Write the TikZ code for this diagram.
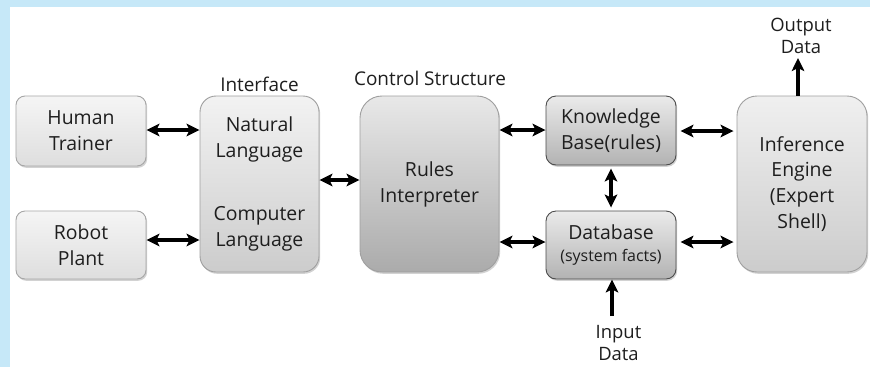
\documentclass[tikz,border=0pt]{standalone}
\usepackage{fontspec}
\setmainfont{Open Sans}
\usetikzlibrary{shadows,arrows.meta,calc}
\definecolor{bgblue}{HTML}{C6E8F8}
\definecolor{txt}{HTML}{1E1E1E}
\begin{document}
\begin{tikzpicture}[x=1bp,y=-1bp,
  font=\fontsize{19.5}{26}\selectfont, text=txt,
  box/.style={draw=#1, line width=0.9bp, align=center, inner sep=0pt,
    drop shadow={shadow xshift=1.2bp, shadow yshift=-1.8bp, opacity=0.35}},
  light/.style={box=gray!70, top color=black!4, bottom color=black!13, rounded corners=9bp},
  tall/.style={box=gray!75, rounded corners=16bp},
  mid/.style={box=black!70, top color=black!8, bottom color=black!30, rounded corners=10bp},
  tip/.tip={Stealth[length=13bp,width=12.5bp,inset=3bp]},
  arr/.style={line width=3.2bp, black, tip-tip},
  oarr/.style={line width=3.2bp, black, -tip},
  lbl/.style={align=center, inner sep=0pt}
]
\useasboundingbox (0,0) rectangle (870,367);
\fill[bgblue] (0,0) rectangle (870,367);
\fill[white] (10,7) rectangle (870,367);

\node[light, minimum width=130bp, minimum height=70bp] (ht) at (81,131) {Human\\Trainer};
\node[light, minimum width=130bp, minimum height=68bp] (rp) at (81,245) {Robot\\Plant};
\node[tall, top color=black!5, bottom color=black!20, minimum width=119bp, minimum height=176bp] (iface) at (259.5,184) {};
\node[lbl] (nl) at (259.5,139) {Natural\\Language};
\node[lbl] (cl) at (259.5,229) {Computer\\Language};
\node[tall, rounded corners=22bp, top color=black!9, bottom color=black!33, minimum width=139bp, minimum height=176bp] (rules) at (429.5,184) {Rules\\Interpreter};
\node[mid, minimum width=130bp, minimum height=69bp] (kb) at (611,130.5) {Knowledge\\Base(rules)};
\node[mid, minimum width=130bp, minimum height=68bp] (db) at (611,245) {Database\\[-3bp]{\fontsize{16}{20}\selectfont (system facts)}};
\node[tall, rounded corners=20bp, top color=black!6, bottom color=black!20, minimum width=130bp, minimum height=176bp] (ie) at (802,184) {Inference\\Engine\\(Expert\\Shell)};

\node[lbl, font=\fontsize{19}{25}\selectfont] (ilbl) at (259.5,84) {Interface};
\node[lbl, font=\fontsize{19}{25}\selectfont] (clbl) at (430,78) {Control Structure};
\node[lbl, font=\fontsize{18.5}{22}\selectfont] (out) at (801,36) {Output\\Data};
\node[lbl, font=\fontsize{18.5}{22}\selectfont] (inp) at (618.5,343) {Input\\Data};

\draw[arr] (ht.east |- {(0,130)}) -- (iface.west |- {(0,130)});
\draw[arr] (rp.east |- {(0,240)}) -- (iface.west |- {(0,240)});
\draw[arr] (iface.east |- {(0,180)}) -- (rules.west |- {(0,180)});
\draw[arr] (rules.east |- {(0,130)}) -- (kb.west |- {(0,130)});
\draw[arr] (rules.east |- {(0,242)}) -- (db.west |- {(0,242)});
\draw[arr, shorten <=3bp, shorten >=3bp] (kb.south) -- (db.north);
\draw[arr, shorten <=4bp, shorten >=3bp] (kb.east |- {(0,131)}) -- (ie.west |- {(0,131)});
\draw[arr, shorten <=4bp, shorten >=3bp] (db.east |- {(0,242)}) -- (ie.west |- {(0,242)});
\coordinate (otop) at (798,58);
\draw[oarr] (ie.north -| otop) -- (otop);
\coordinate (ibot) at (612,316);
\draw[oarr] (ibot) -- (db.south -| ibot);
\end{tikzpicture}
\end{document}
